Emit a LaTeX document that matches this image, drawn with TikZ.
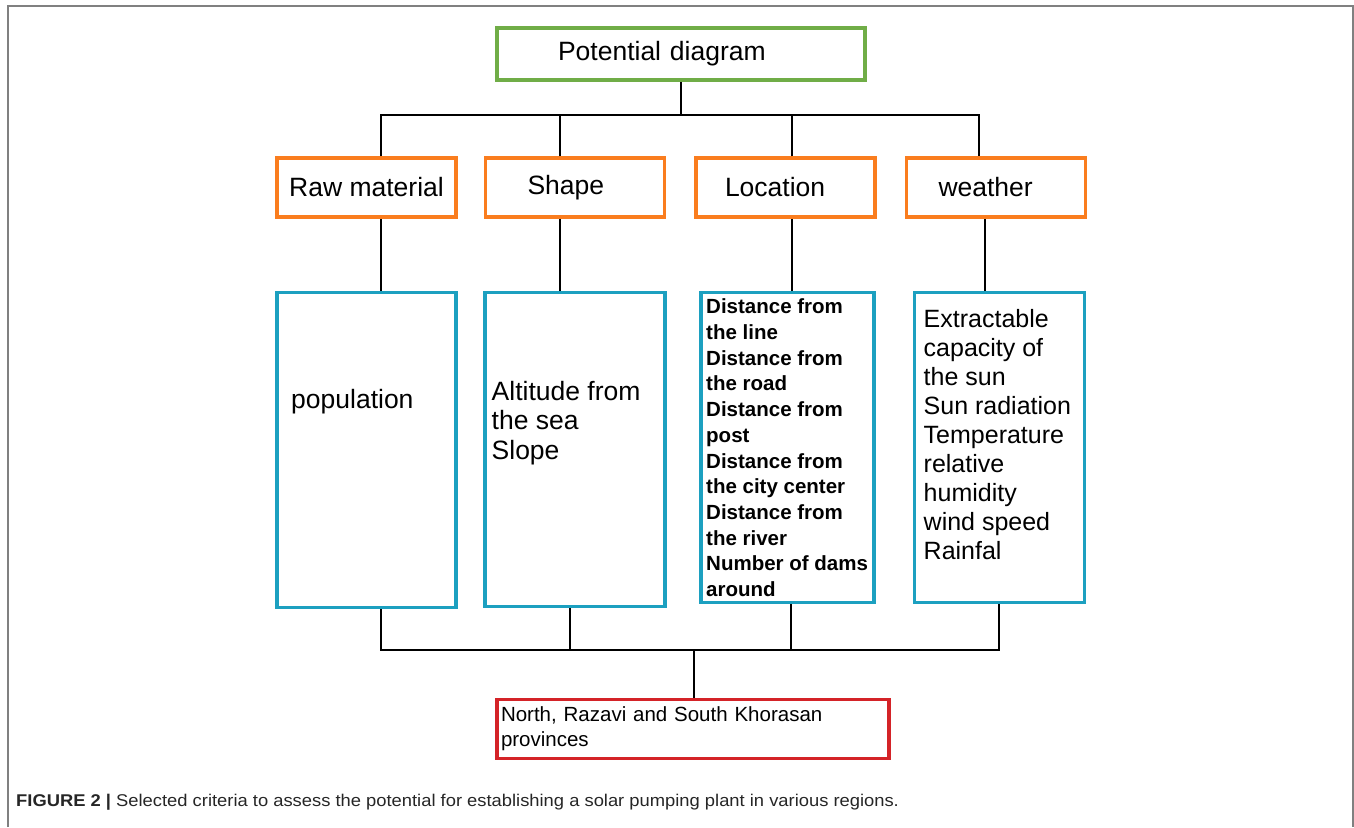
\documentclass[tikz,border=0pt]{standalone}
\usepackage{fontspec}
\setmainfont{Liberation Sans}
\newfontfamily\capfont[FakeStretch=1.08]{Liberation Sans}
\usepackage{tikz}
\usepackage{xcolor}
\usetikzlibrary{positioning}
\definecolor{boxgreen}{RGB}{112,173,71}
\definecolor{boxorange}{RGB}{250,125,30}
\definecolor{boxblue}{RGB}{28,160,192}
\definecolor{boxred}{RGB}{212,35,40}

\begin{document}
\begin{tikzpicture}
[x=1pt, y=-1pt,
box-a/.style={rectangle, draw=boxgreen, line width=3.5pt, minimum width=368pt, minimum height=52pt, align=left, font=\fontsize{26.5}{29}\selectfont},
box-b/.style={rectangle, draw=boxorange, line width=3.5pt, minimum width=179pt, minimum height=59pt, align=left, font=\fontsize{26.5}{29}\selectfont},
box-c/.style={rectangle, draw=boxblue, line width=3.5pt},
box-d/.style={rectangle, draw=boxred, line width=3.5pt, minimum width=392pt, minimum height=59pt, align=left, font=\fontsize{20.5}{25}\selectfont},
text-a/.style={inner sep=0pt, align=left, font=\fontsize{26.5}{29.5}\selectfont},
line-a/.style={line width=1.8pt, black},
frame-a/.style={line width=1.5pt, draw=black!50},]
\useasboundingbox (0,0) rectangle (1354,827);
%\draw [dotted, step=50] (0,0) grid (1354,827);
\draw [frame-a] (8,827) -- (8,6) -- (1353,6) -- (1353,827);
\node (pot)     [box-a, text width=246pt, inner xsep=61pt] at (681,54) {Potential diagram};
\node (raw-a)   [box-b] at (366.5,187.5) {Raw material};
\node (shape-a) [box-b, text width=95pt, inner xsep=42pt, right = 26pt of raw-a] {Shape};
\node (loc-a)   [box-b, text width=121pt, inner xsep=29pt, right = 28pt of shape-a] {Location};
\node (wea-a)   [box-b, text width=115pt, inner xsep=32pt, right = 28pt of loc-a] {weather};
\node (raw-b)   [box-c, minimum width=179pt, minimum height=315pt, below = 72pt of raw-a] {};
\node (shape-b) [box-c, minimum width=180pt, minimum height=314pt, below = 72pt of shape-a] {};
\node (loc-b)   [box-c, minimum width=173pt, minimum height=310pt, below = 72pt of loc-a, xshift=2pt] {};
\node (wea-b)   [box-c, minimum width=170pt, minimum height=310pt, below = 72pt of wea-a, xshift=3.5pt] {};
\node (pop-t)   [text-a, below right = 98pt and 15.75pt of raw-b.north west] {population};
\node (alt-t)   [text-a, below right = 90pt and 8.25pt of shape-b.north west] {Altitude from\\the sea\\Slope};
\node (loc-t)   [text-a, font=\bfseries\fontsize{20.5}{25.7}\selectfont, below right = 8pt and 6.75pt of loc-b.north west]
  {Distance from\\the line\\Distance from\\the road\\Distance from\\post\\Distance from\\the city center\\Distance from\\the river\\Number of dams\\around};
\node (wea-t)   [text-a, font=\fontsize{25}{29.1}\selectfont, below right = 18pt and 10.75pt of wea-b.north west]
  {Extractable\\capacity of\\the sun\\Sun radiation\\Temperature\\relative\\humidity\\wind speed\\Rainfal};
\node (prov)    [box-d, text width=384pt, inner xsep=4pt] at (693,729) {North, Razavi and South Khorasan\\provinces};
\node (caption) [anchor=base west, inner sep=0pt, font=\capfont\fontsize{17}{20}\selectfont, text=black!85] at (16,806.5)
  {\textbf{FIGURE 2 |} Selected criteria to assess the potential for establishing a solar pumping plant in various regions.};
\coordinate (bus-1) at (681,115);
\coordinate (bus-2) at (694,650);
\draw [line-a] (pot.south) -- (bus-1);
\draw [line-a] (raw-a.north -| 381,0) |- (bus-1) -| (wea-a.north -| 979,0);
\draw [line-a] (shape-a.north -| 560,0) -- (bus-1 -| 560,0);
\draw [line-a] (loc-a.north -| 792,0) -- (bus-1 -| 792,0);
\draw [line-a] (raw-a.south -| 381,0) -- (raw-b.north -| 381,0);
\draw [line-a] (shape-a.south -| 560,0) -- (shape-b.north -| 560,0);
\draw [line-a] (loc-a.south -| 792,0) -- (loc-b.north -| 792,0);
\draw [line-a] (wea-a.south -| 985,0) -- (wea-b.north -| 985,0);
\draw [line-a] (raw-b.south -| 381,0) |- (bus-2) -| (wea-b.south -| 999,0);
\draw [line-a] (shape-b.south -| 570,0) -- (bus-2 -| 570,0);
\draw [line-a] (loc-b.south -| 791,0) -- (bus-2 -| 791,0);
\draw [line-a] (bus-2) -- (bus-2 |- prov.north);
\end{tikzpicture}
\end{document}
